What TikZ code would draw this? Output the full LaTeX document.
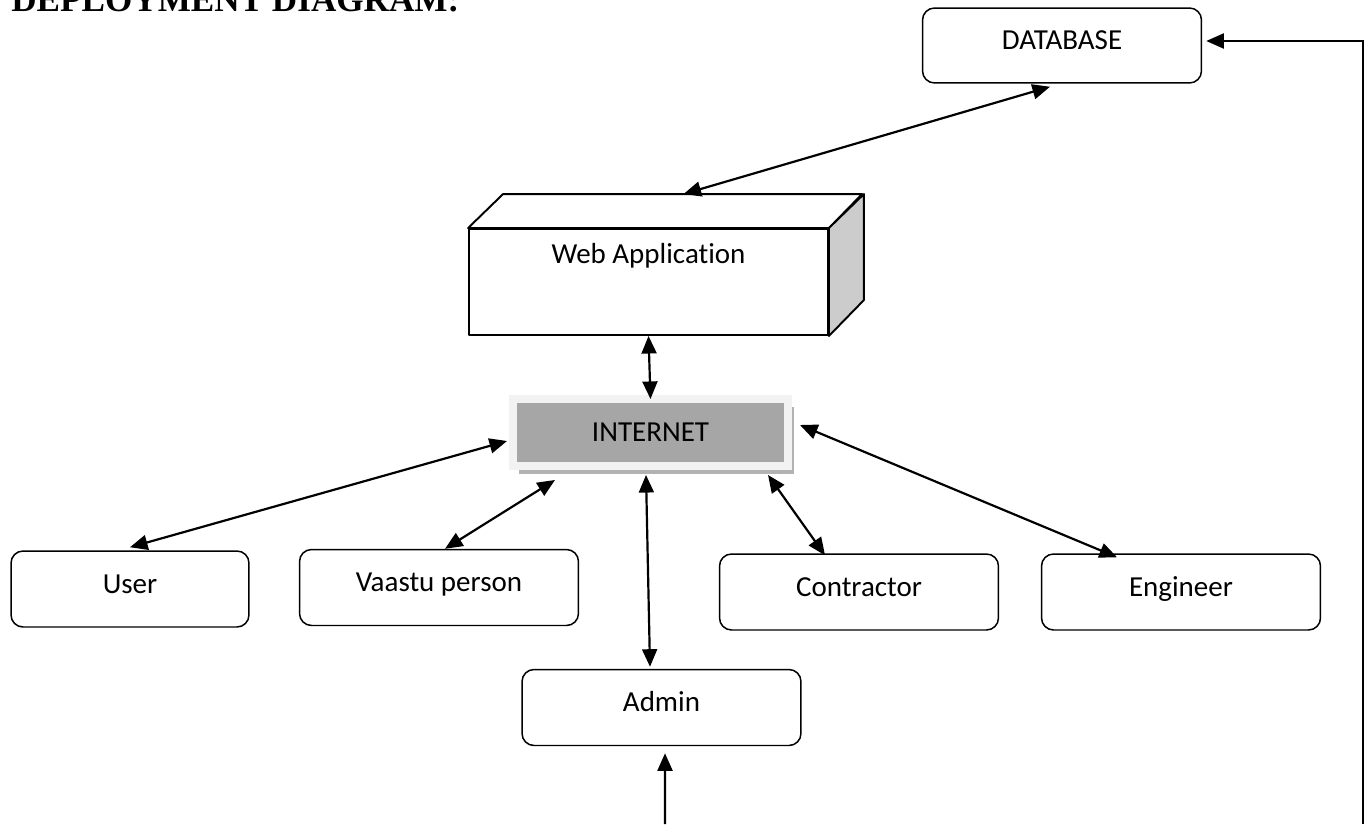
\documentclass[tikz,border=0pt]{standalone}
\usepackage{fontspec}
\setmainfont{Carlito}[Ligatures=NoCommon]
\newfontfamily\titlefont{Liberation Serif}
\usetikzlibrary{arrows.meta,calc,shadows}

\begin{document}
\begin{tikzpicture}[
  x=0.02cm, y=-0.02cm,
  font=\fontsize{16.5}{19}\selectfont,
  box/.style={draw, line width=0.85pt, rounded corners=0.24cm, minimum width=5.58cm,
              minimum height=1.52cm, text height=11pt, text depth=6pt, inner sep=0pt},
  arr/.style={{Triangle[length=10pt,width=8.5pt]}-{Triangle[length=10pt,width=8.5pt]}, line width=1.25pt},
  onearr/.style={-{Triangle[length=10pt,width=8.5pt]}, line width=1.25pt},
  cube/.style={line width=1.1pt, line join=round},
  title/.style={font=\titlefont\bfseries\fontsize{20}{24}\selectfont, inner sep=0pt, anchor=base west}
]
\path[use as bounding box, fill=white] (0,0) rectangle (1371,824);
% Title (cut at the top edge)
\node[title] (title) at (11,12) {DEPLOYMENT DIAGRAM:};
% Server side
\node[box, minimum height=1.5cm] (db) at (1062,45.5) {DATABASE};
\node[cube, draw, fill=white, minimum width=7.18cm, minimum height=2.12cm, inner sep=0pt] (web) at (648.5,282) {};
\draw[cube, fill=white] (web.north west) -- ++(35,-34) -- ++(359,0) -- (web.north east) -- cycle;
\draw[cube, fill=black!20] (web.north east) -- ++(35,-34) -- ++(0,106) -- (web.south east) -- cycle;
\node[anchor=base] (webtxt) at (648.5,263) {Web Application};
\coordinate (webtop) at ($(web.north)+(35,-34)$);
% Network
\node[fill=black!35, draw=black!5, line width=0.16cm, outer sep=0pt, inner sep=0pt,
      minimum width=5.5cm, minimum height=1.34cm,
      drop shadow={shadow xshift=0.12cm, shadow yshift=-0.16cm, fill=black!30, opacity=1}]
      (inet) at (650.5,432.5) {INTERNET};
% Clients
\node[box, minimum width=4.76cm] (user) at (130,589) {User};
\node[box] (vaastu) at (439,587.5) {Vaastu person};
\node[box] (contractor) at (859,592) {Contractor};
\node[box] (engineer) at (1181,592) {Engineer};
\node[box] (admin) at (661.5,707.5) {Admin};
% Links
\draw[arr] (webtop) -- ($(db.south)+(-12,3)$);
\draw[arr] (web.south) -- (inet.north);
\draw[arr] ($(inet.west)+(-6,8.5)$) -- ($(user.north)+(0,-3)$);
\draw[arr] ($(inet.south)+(-95.5,14)$) -- ($(vaastu.north)+(6,0)$);
\draw[arr] ($(inet.south)+(-4.5,9)$) -- ($(admin.north)+(-11.5,-2)$);
\draw[arr] ($(inet.south)+(117.5,9)$) -- ($(contractor.north)+(-34,2)$);
\draw[arr] ($(inet.east)+(12,-7.5)$) -- ($(engineer.north)+(-64,4)$);
% Feeds from below
\coordinate (adminfeed) at (665,824);
\coordinate (dbfeed) at (1363,824);
\draw[onearr] (adminfeed) -- ($(admin.south)+(3.5,7)$);
\draw[onearr] (dbfeed) |- ($(db.east)+(4,-4.5)$);
\end{tikzpicture}
\end{document}
